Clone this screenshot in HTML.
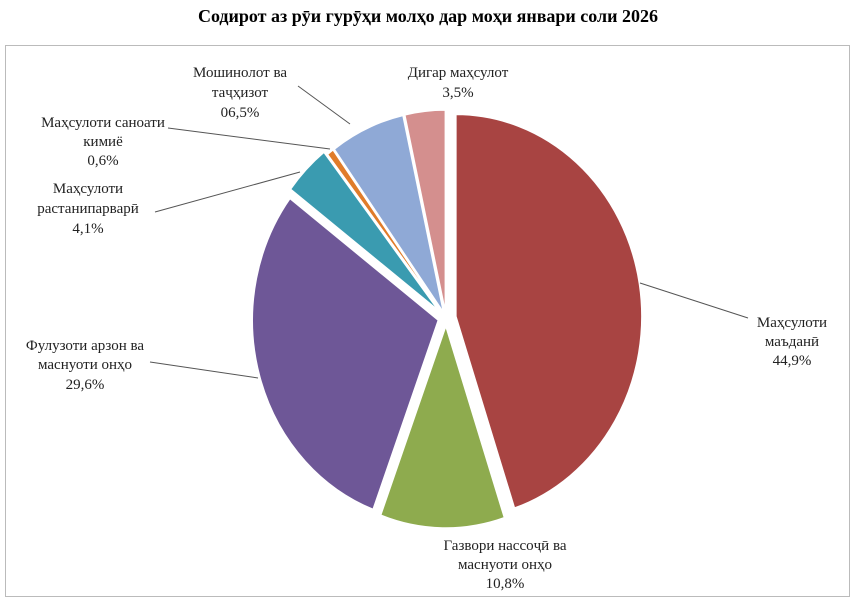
<!DOCTYPE html>
<html><head><meta charset="utf-8"><style>
body{margin:0;background:#fff;}
svg{display:block;font-family:"Liberation Serif",serif;}
</style></head><body>
<svg id="s" width="856" height="602" xmlns="http://www.w3.org/2000/svg">
<rect width="856" height="602" fill="#fff"/>
<text x="428" y="22" text-anchor="middle" font-size="18" font-weight="bold" fill="#000">Содирот аз рӯи гурӯҳи молҳо дар моҳи январи соли 2026</text>
<rect x="5.5" y="45.5" width="844" height="551" fill="none" stroke="#bbb" stroke-width="1"/>
<g id="pie"></g>
<g stroke="#555" stroke-width="1" fill="none">
<line x1="298" y1="86" x2="350" y2="124"/>
<line x1="168" y1="128" x2="330" y2="149"/>
<line x1="155" y1="212" x2="300" y2="172"/>
<line x1="150" y1="362" x2="258" y2="378"/>
<line x1="640" y1="283" x2="748" y2="318"/>
</g>
<g font-size="15" fill="#222" text-anchor="middle">
<text x="458" y="77">Дигар маҳсулот</text><text x="458" y="97">3,5%</text>
<text x="240" y="77">Мошинолот ва</text><text x="240" y="97">таҷҳизот</text><text x="240" y="117">06,5%</text>
<text x="103" y="127">Маҳсулоти саноати</text><text x="103" y="146">кимиё</text><text x="103" y="165">0,6%</text>
<text x="88" y="193">Маҳсулоти</text><text x="88" y="213">растанипарварӣ</text><text x="88" y="233">4,1%</text>
<text x="85" y="350">Фулузоти арзон ва</text><text x="85" y="369">маснуоти онҳо</text><text x="85" y="389">29,6%</text>
<text x="792" y="327">Маҳсулоти</text><text x="792" y="346">маъданӣ</text><text x="792" y="365">44,9%</text>
<text x="505" y="550">Газвори нассоҷӣ ва</text><text x="505" y="569">маснуоти онҳо</text><text x="505" y="588">10,8%</text>
</g>
</svg>
<script>
var cx=446,cy=318,rx=186,ry=202;
var d=[[44.9,"#a84442",10],[10.8,"#8eab4e",8],[29.6,"#6e5797",8],[4.1,"#3a9bb0",10],[0.6,"#e07c2a",6],[6.5,"#8fa9d6",6],[3.5,"#d48f8e",6]];
var a=0,g=document.getElementById("pie"),h="";
function pt(x,y,t){return [x+rx*Math.sin(t),y-ry*Math.cos(t)];}
d.forEach(function(s){var a0=a*Math.PI/180,a1=(a+s[0]*3.6)*Math.PI/180,m=(a0+a1)/2;
var ox=cx+s[2]*Math.sin(m),oy=cy-s[2]*Math.cos(m);
var p0=pt(ox,oy,a0),p1=pt(ox,oy,a1);var lg=(a1-a0)>Math.PI?1:0;
h+='<path d="M'+ox+','+oy+' L'+p0[0]+','+p0[1]+' A'+rx+','+ry+' 0 '+lg+' 1 '+p1[0]+','+p1[1]+' Z" fill="'+s[1]+'" stroke="#fff" stroke-width="1.5"/>';
a+=s[0]*3.6;});
g.innerHTML=h;
</script>
</body></html>
